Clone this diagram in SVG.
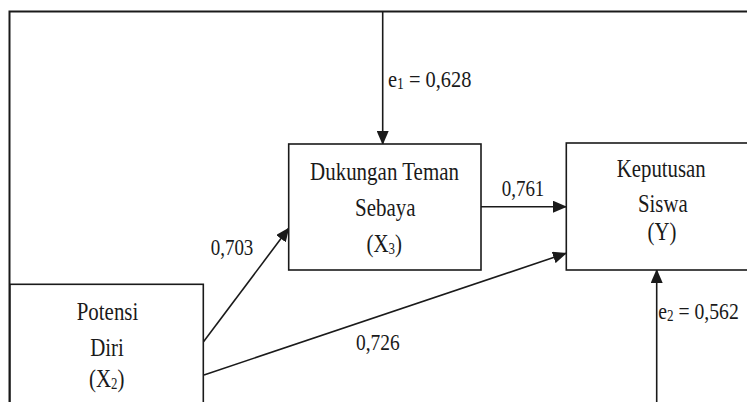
<svg xmlns="http://www.w3.org/2000/svg" width="747" height="402" viewBox="0 0 747 402">
<style>
.box{fill:#fff;stroke:#1a1a1a;stroke-width:1.6}
.ln{fill:none;stroke:#1a1a1a;stroke-width:1.6}
.frame{fill:none;stroke:#1a1a1a;stroke-width:2}
.t{font-family:"Liberation Serif","Times New Roman",serif;font-size:26px;fill:#1a1a1a;text-anchor:middle}
.l{font-family:"Liberation Serif","Times New Roman",serif;font-size:24px;fill:#1a1a1a}
.sub{font-size:16px}
</style>
<defs>
<marker id="ah" markerUnits="userSpaceOnUse" markerWidth="14" markerHeight="12" viewBox="0 0 14 12" refX="13" refY="6" orient="auto">
<path d="M0,0 L14,6 L0,12 Z" fill="#1a1a1a"/>
</marker>
</defs>
<g id="connectors">
<path class="frame" d="M9.5,402 L9.5,11.5 L747,11.5"/>
<line class="ln" x1="382.7" y1="11.5" x2="382.7" y2="144" marker-end="url(#ah)"/>
<line class="ln" x1="481" y1="206.7" x2="566" y2="206.7" marker-end="url(#ah)"/>
<line class="ln" x1="203.5" y1="341.7" x2="288.7" y2="228.3" marker-end="url(#ah)"/>
<line class="ln" x1="204" y1="375" x2="566" y2="253.3" marker-end="url(#ah)"/>
<line class="ln" x1="656.7" y1="402" x2="656.7" y2="270" marker-end="url(#ah)"/>
<text class="l" transform="translate(388,87) scale(0.85,1)">e<tspan class="sub" dy="2">1</tspan><tspan dy="-2"> = 0,628</tspan></text>
<text class="l" transform="translate(501.7,196) scale(0.79,1)">0,761</text>
<text class="l" transform="translate(210.7,255) scale(0.79,1)">0,703</text>
<text class="l" transform="translate(356,350) scale(0.81,1)">0,726</text>
<text class="l" transform="translate(658.3,319) scale(0.82,1)">e<tspan class="sub" dy="2">2</tspan><tspan dy="-2"> = 0,562</tspan></text>
</g>
<g id="node-dukungan">
<rect class="box" x="288.7" y="144" width="192.3" height="126"/>
<text class="t" transform="translate(384.5,180) scale(0.807,1)">Dukungan Teman</text>
<text class="t" transform="translate(385.3,216) scale(0.807,1)">Sebaya</text>
<text class="t" transform="translate(384.2,252) scale(0.807,1)">(X<tspan class="sub" dy="2">3</tspan><tspan dy="-2">)</tspan></text>
</g>
<g id="node-keputusan">
<rect class="box" x="566.3" y="143" width="200" height="127"/>
<text class="t" transform="translate(661.2,177.3) scale(0.8,1)">Keputusan</text>
<text class="t" transform="translate(662.8,211.7) scale(0.8,1)">Siswa</text>
<text class="t" transform="translate(662,240) scale(0.8,1)">(Y)</text>
</g>
<g id="node-potensi">
<rect class="box" x="10" y="284.3" width="193.3" height="130"/>
<text class="t" transform="translate(107.5,320) scale(0.804,1)">Potensi</text>
<text class="t" transform="translate(107,356) scale(0.804,1)">Diri</text>
<text class="t" transform="translate(106.7,387) scale(0.804,1)">(X<tspan class="sub" dy="2">2</tspan><tspan dy="-2">)</tspan></text>
</g>
</svg>
